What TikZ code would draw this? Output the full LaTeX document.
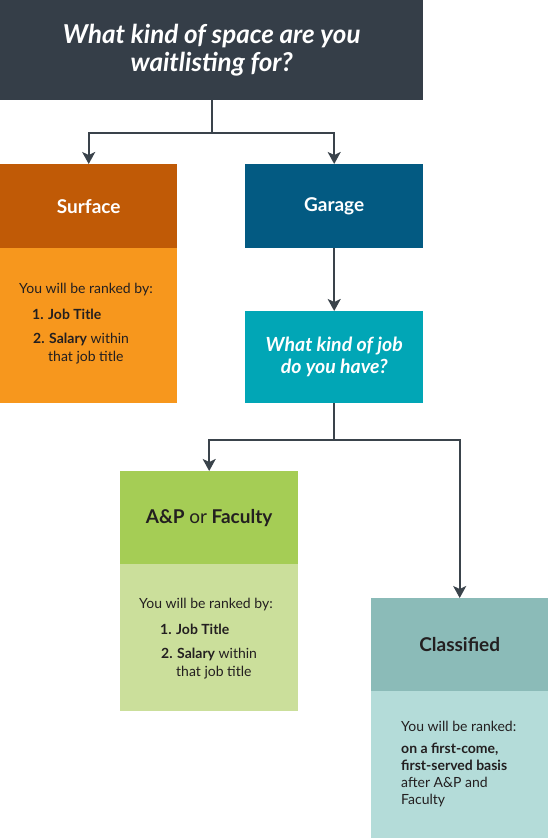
\documentclass[tikz,border=0pt]{standalone}
\usepackage{fontspec}
\setmainfont{Lato}
\usetikzlibrary{arrows.meta}

\definecolor{slate}{HTML}{353E48}
\definecolor{rust}{HTML}{C05A06}
\definecolor{amber}{HTML}{F7971D}
\definecolor{navy}{HTML}{035A82}
\definecolor{lagoon}{HTML}{01A6B6}
\definecolor{lime}{HTML}{A5CD55}
\definecolor{limelight}{HTML}{CBDF9B}
\definecolor{sage}{HTML}{8BBBB8}
\definecolor{sagelight}{HTML}{B4DCD9}
\definecolor{ink}{HTML}{231F20}
\definecolor{wirecol}{HTML}{3A434B}

\begin{document}
\begin{tikzpicture}[x=1pt, y=-1pt,
	box/.style={rectangle, inner sep=0pt, anchor=north west},
	head/.style={box, font=\fontsize{19}{22}\selectfont\bfseries},
	txt/.style={inner sep=0pt, anchor=north west, align=left, text=ink, font=\fontsize{14}{18.4}\selectfont},
	wire/.style={draw=wirecol, line width=2pt},
	link/.style={wire, -{Stealth[length=12pt, width=13pt, inset=3pt]}}]
			\useasboundingbox (0,0) rectangle (550,838);
			\node [box, fill=slate, minimum width=423pt, minimum height=100pt, text=white, align=center, font=\fontsize{26}{28}\selectfont\bfseries\itshape] (space) at (0,0) {What kind of space are you\\waitlisting for?};
			\node [head, fill=rust, minimum width=177pt, minimum height=84pt, text=white] (surface) at (0,164) {Surface};
			\node [box, fill=amber, minimum width=177pt, minimum height=155pt] (surfacebody) at (0,248) {};
			\node [head, fill=navy, minimum width=178pt, minimum height=84pt, text=white] (garage) at (245,164) {Garage};
			\node [box, fill=lagoon, minimum width=178pt, minimum height=92pt, text=white, align=center, font=\fontsize{19.5}{22}\selectfont\bfseries\itshape] (jobkind) at (245,311) {What kind of job\\do you have?};
			\node [head, fill=lime, minimum width=178pt, minimum height=93pt, text=ink] (apfac) at (120,471) {A\&P {\mdseries or} Faculty};
			\node [box, fill=limelight, minimum width=178pt, minimum height=147pt] (apbody) at (120,564) {};
			\node [head, fill=sage, minimum width=177pt, minimum height=93pt, text=ink] (classified) at (371,598) {Classified};
			\node [box, fill=sagelight, minimum width=177pt, minimum height=147pt] (classbody) at (371,691) {};
			\node [txt] (surfacerank) at (19,283) {You will be ranked by:\\[8pt]\hspace*{13pt}\textbf{1. Job Title}\\[5pt]\hspace*{14pt}\textbf{2. Salary} within\\\hspace*{29pt}that job title};
			\node [txt] (aprank) at (139,598) {You will be ranked by:\\[8pt]\hspace*{21pt}\textbf{1. Job Title}\\[5pt]\hspace*{22pt}\textbf{2. Salary} within\\\hspace*{37pt}that job title};
			\node [txt, font=\fontsize{14}{17}\selectfont] (classrank) at (401,720.5) {You will be ranked:\\[5.3pt]\textbf{on a first-come,}\\\textbf{first-served basis}\\after A\&P and\\Faculty};
			\draw [wire] (space.south) -- ++(0,33) coordinate (fork1);
			\draw [wire] (jobkind.south) -- ++(0,37) coordinate (fork2);
			\draw [link] (fork1) -| (surface.north);
			\draw [link] (fork1) -| (garage.north);
			\draw [link] (garage.south) -- (jobkind.north);
			\draw [link] (fork2) -| (apfac.north);
			\draw [link] (fork2) -| (classified.north);
\end{tikzpicture}
\end{document}
